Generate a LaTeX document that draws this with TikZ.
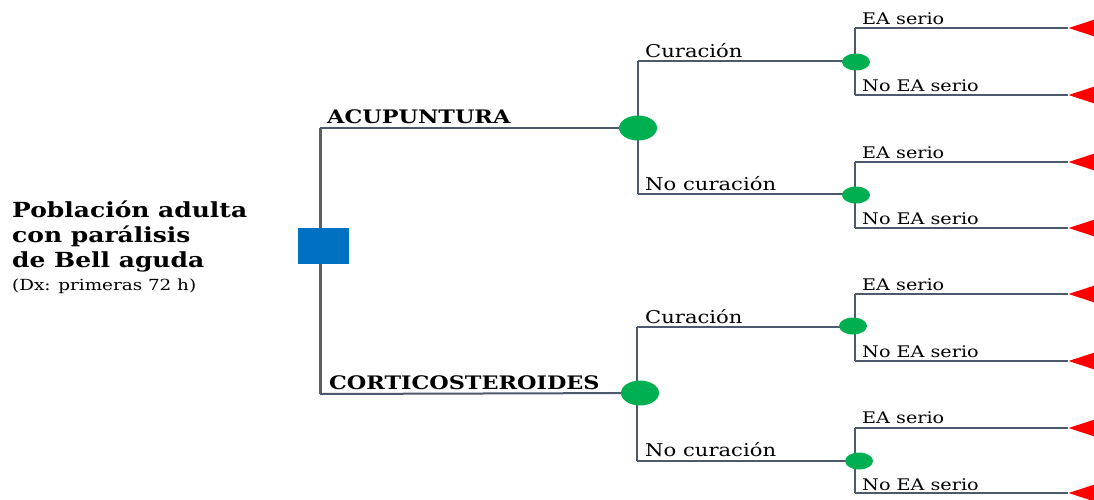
\documentclass[tikz,border=0pt]{standalone}
\usepackage{fontspec}
\setmainfont[FakeStretch=1.2]{DejaVu Serif}
\usetikzlibrary{shapes.geometric,backgrounds}
\definecolor{linec}{HTML}{4D5A6E}
\definecolor{trunkc}{HTML}{5F5F5F}
\definecolor{chanceg}{HTML}{00B050}
\definecolor{decb}{HTML}{0070C0}
\definecolor{termr}{HTML}{FF0000}
\tikzset{
  br/.style={draw=linec, line width=2pt},
  trunk/.style={draw=trunkc, line width=3pt},
  bigchance/.style={ellipse, fill=chanceg, minimum width=38pt, minimum height=25pt, inner sep=0pt},
  smallchance/.style={ellipse, fill=chanceg, minimum width=28pt, minimum height=17pt, inner sep=0pt},
  decbox/.style={rectangle, fill=decb, minimum width=51pt, minimum height=36pt, inner sep=0pt},
  termtri/.style={isosceles triangle, isosceles triangle stretches, shape border rotate=180, fill=termr, minimum height=26pt, minimum width=17pt, inner sep=0pt, anchor=apex},
  lbl/.style={anchor=base west, inner sep=0pt, font=\fontsize{17.6}{20}\selectfont},
  elbl/.style={anchor=base west, inner sep=0pt, font=\fontsize{16}{19}\selectfont},
  blbl/.style={anchor=base west, inner sep=0pt, font=\bfseries\fontsize{18.6}{22}\selectfont},
  tlbl/.style={anchor=base west, inner sep=0pt, font=\bfseries\fontsize{20.8}{25}\selectfont},
}
\begin{document}
\begin{tikzpicture}[x=1pt,y=-1pt]
\useasboundingbox (0,0) rectangle (1094,499);
% title
\node[tlbl] (title1) at (12,217) {Población adulta};
\node[tlbl] (title2) at (12,242) {con parálisis};
\node[tlbl] (title3) at (12,267) {de Bell aguda};
\node[anchor=base west, inner sep=0pt, font=\fontsize{15.3}{18}\selectfont] (dx) at (12,290) {(Dx: primeras 72 h)};
% decision
\coordinate (a1) at (320,128);
\coordinate (a2) at (320,394);
\node[decbox] (dec) at (323.5,246) {};
% chance nodes
\node[bigchance] (c1) at (638,128) {};
\node[bigchance] (c2) at (640,393) {};
\coordinate (b1) at (638,61);
\coordinate (b2) at (638,194);
\coordinate (b3) at (637,327);
\coordinate (b4) at (637,461);
\node[smallchance] (s1) at (856,62) {};
\node[smallchance] (s2) at (856,195) {};
\node[smallchance] (s3) at (853,326) {};
\node[smallchance] (s4) at (859,461) {};
% terminal triangles
\foreach \n/\y in {t1/28,t2/95,t3/162,t4/228,t5/294,t6/361,t7/428,t8/493}{
  \node[termtri] (\n) at (1068,\y) {};
}
\foreach \n/\y in {u1/28,u2/95,u3/162,u4/228,u5/294,u6/361,u7/428,u8/493}{
  \coordinate (\n) at (855,\y);
}
\begin{scope}[on background layer]
  \draw[trunk] (a1) -- (a2);
  \draw[br] (a1) -- (c1);
  \draw[br] (a2) -- (c2);
  \draw[br] (b1) -- (b2);
  \draw[br] (b3) -- (b4);
  \draw[br] (b1) -- (b1 -| s1.center);
  \draw[br] (b2) -- (b2 -| s2.center);
  \draw[br] (b3) -- (b3 -| s3.center);
  \draw[br] (b4) -- (s4.center);
  \draw[br] (u1) -- (u2);
  \draw[br] (u3) -- (u4);
  \draw[br] (u5) -- (u6);
  \draw[br] (u7) -- (u8);
  \draw[br] (u1) -- (t1.apex);
  \draw[br] (u2) -- (t2.apex);
  \draw[br] (u3) -- (t3.apex);
  \draw[br] (u4) -- (t4.apex);
  \draw[br] (u5) -- (t5.apex);
  \draw[br] (u6) -- (t6.apex);
  \draw[br] (u7) -- (t7.apex);
  \draw[br] (u8) -- (t8.apex);
\end{scope}
% labels
\node[blbl] (la) at (327,123) {ACUPUNTURA};
\node[blbl] (lc) at (329,389) {CORTICOSTEROIDES};
\node[lbl] (l1) at (645,57) {Curación};
\node[lbl] (l2) at (645,190) {No curación};
\node[lbl] (l3) at (645,323) {Curación};
\node[lbl] (l4) at (645,456) {No curación};
\node[elbl] (e1) at (862,24) {EA serio};
\node[elbl] (e2) at (862,91) {No EA serio};
\node[elbl] (e3) at (862,158) {EA serio};
\node[elbl] (e4) at (862,224) {No EA serio};
\node[elbl] (e5) at (862,290) {EA serio};
\node[elbl] (e6) at (862,357) {No EA serio};
\node[elbl] (e7) at (862,423) {EA serio};
\node[elbl] (e8) at (862,490) {No EA serio};
\end{tikzpicture}
\end{document}
